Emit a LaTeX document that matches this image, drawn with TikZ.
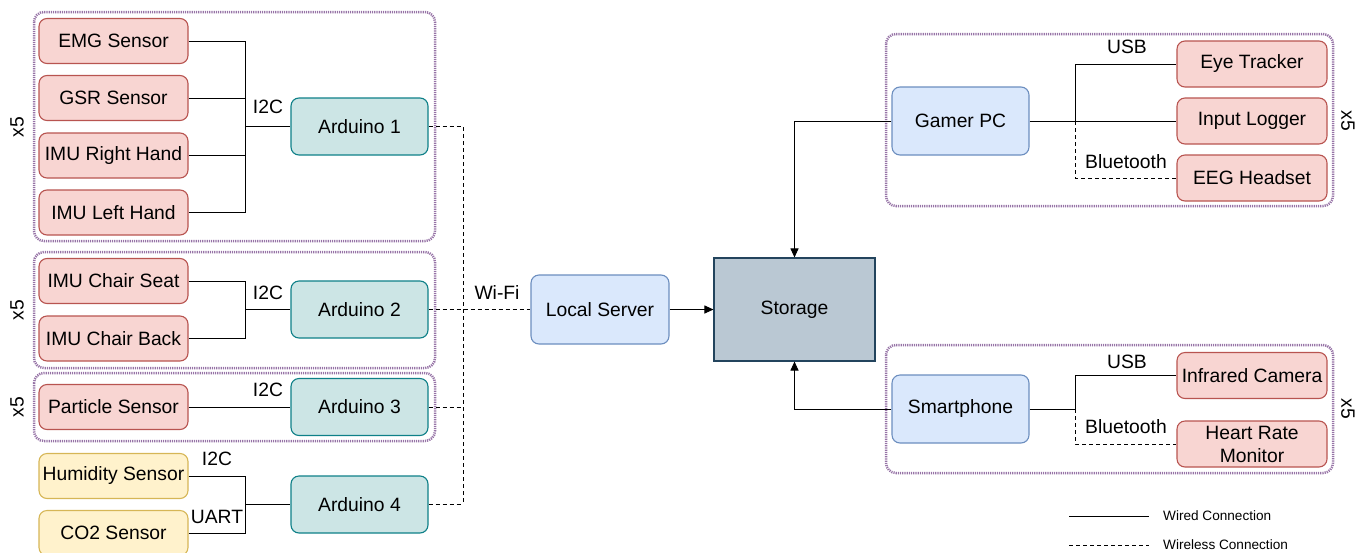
\documentclass[tikz,border=0pt]{standalone}
\usepackage{fontspec}
\setmainfont{Liberation Sans}
\usetikzlibrary{arrows.meta}
\definecolor{redfill}{HTML}{F8D5D2}
\definecolor{redline}{HTML}{B85450}
\definecolor{yelfill}{HTML}{FFF2CC}
\definecolor{yelline}{HTML}{D6B656}
\definecolor{tealfill}{HTML}{CCE5E5}
\definecolor{tealline}{HTML}{0E8088}
\definecolor{bluefill}{HTML}{DAE8FC}
\definecolor{blueline}{HTML}{6C8EBF}
\definecolor{stofill}{HTML}{BAC8D3}
\definecolor{stoline}{HTML}{23445D}
\definecolor{grpline}{HTML}{9673A6}
\begin{document}
\begin{tikzpicture}[x=1pt,y=-1pt,
  font=\fontsize{19.3}{22}\selectfont,
  boxbase/.style={rounded corners=8pt, line width=1.1pt, inner sep=0pt, align=center},
  redbox/.style={boxbase, fill=redfill, draw=redline, minimum width=149pt, minimum height=45pt},
  rredbox/.style={boxbase, fill=redfill, draw=redline, minimum width=150pt, minimum height=46pt},
  yelbox/.style={boxbase, fill=yelfill, draw=yelline, minimum width=149pt, minimum height=45pt},
  ardbox/.style={boxbase, fill=tealfill, draw=tealline, minimum width=137pt, minimum height=57pt},
  bluebox/.style={boxbase, fill=bluefill, draw=blueline, minimum width=137pt, minimum height=68pt},
  grp/.style={draw=grpline, line width=2.5pt, dash pattern=on 1.2pt off 1pt, rounded corners=10pt},
  wire/.style={draw=black, line width=1pt},
  wless/.style={draw=black, line width=1pt, dash pattern=on 4pt off 3pt},
  arr/.style={-{Triangle[width=8pt,length=9pt]}},
  lbl/.style={inner sep=0pt},
  leg/.style={inner sep=0pt, anchor=west, font=\fontsize{13.6}{15}\selectfont}
]
\useasboundingbox (0,0) rectangle (1362,552);

% groups
\draw[grp] (34,12) rectangle (435,241);
\draw[grp] (34,252) rectangle (435,368);
\draw[grp] (34,373) rectangle (435,441);
\draw[grp] (886,34) rectangle (1333,206);
\draw[grp] (886,345) rectangle (1333,473);

\node[lbl, rotate=90] (xa) at (17,127) {x5};
\node[lbl, rotate=90] (xb) at (17,310) {x5};
\node[lbl, rotate=90] (xc) at (17,407) {x5};
\node[lbl, rotate=-90] (xd) at (1348,121) {x5};
\node[lbl, rotate=-90] (xe) at (1348,409) {x5};

% left sensors
\node[redbox] (emg) at (113.5,41) {EMG Sensor};
\node[redbox] (gsr) at (113.5,98) {GSR Sensor};
\node[redbox] (imur) at (113.5,155.5) {IMU Right Hand};
\node[redbox] (imul) at (113.5,212.5) {IMU Left Hand};
\node[redbox] (seat) at (113.5,281) {IMU Chair Seat};
\node[redbox] (back) at (113.5,338.5) {IMU Chair Back};
\node[redbox] (part) at (113.5,407) {Particle Sensor};
\node[yelbox] (hum) at (113.5,476) {Humidity Sensor};
\node[yelbox] (co2) at (113.5,533) {CO2 Sensor};

\node[ardbox] (a1) at (359.5,126.5) {Arduino 1};
\node[ardbox] (a2) at (359.5,309.5) {Arduino 2};
\node[ardbox] (a3) at (359.5,407) {Arduino 3};
\node[ardbox] (a4) at (359.5,504.5) {Arduino 4};

\node[bluebox, minimum width=138pt, minimum height=69pt] (ls) at (600,309.5) {Local Server};
\node[draw=stoline, fill=stofill, line width=1.1pt, minimum width=161pt, minimum height=103pt, inner sep=0pt] (sto) at (794.5,309.5) {Storage};

\node[bluebox] (gpc) at (960.5,121) {Gamer PC};
\node[bluebox] (sp) at (960.5,409) {Smartphone};

\node[rredbox] (eye) at (1252,64) {Eye Tracker};
\node[rredbox] (inp) at (1252,121) {Input Logger};
\node[rredbox] (eeg) at (1252,178) {EEG Headset};
\node[rredbox] (ir) at (1252,375.5) {Infrared Camera};
\node[rredbox, font=\fontsize{19.3}{23}\selectfont] (hrm) at (1252,444) {Heart Rate\\Monitor};

% buses
\coordinate (b1) at (245,126.5);
\coordinate (b2) at (245,309.5);
\coordinate (b4) at (245,504.5);
\coordinate (w4) at (463,504.5);
\coordinate (gb) at (1075,121);
\coordinate (sb) at (1075,409);

\draw[wire] (emg.east) -| (b1);
\draw[wire] (gsr.east) -| (b1);
\draw[wire] (imur.east) -| (b1);
\draw[wire] (imul.east) -| (b1);
\draw[wire] (b1) -- (a1.west);
\draw[wire] (seat.east) -| (b2);
\draw[wire] (back.east) -| (b2);
\draw[wire] (b2) -- (a2.west);
\draw[wire] (part.east) -- (a3.west);
\draw[wire] (hum.east) -| (b4);
\draw[wire] (co2.east) -| (b4);
\draw[wire] (b4) -- (a4.west);

\node[lbl] (l1) at (268,107) {I2C};
\node[lbl] (l2) at (268,293) {I2C};
\node[lbl] (l3) at (268,390) {I2C};
\node[lbl] (l4) at (217,459) {I2C};
\node[lbl] (l5) at (217,517) {UART};

% wireless
\draw[wless] (a1.east) -| (w4);
\draw[wless] (a4.east) -- (w4);
\draw[wless] (a3.east) -- (a3.east -| w4);
\draw[wless] (a2.east) -- (ls.west);
\node[lbl] (wifi) at (497,293) {Wi-Fi};

\draw[wire, arr] (ls.east) -- (sto.west);
\draw[wire, arr] (gpc.west) -| (sto.north);
\draw[wire, arr] (sp.west) -| (sto.south);

% right
\draw[wire] (gpc.east) -- (inp.west);
\draw[wire] (gb) |- (eye.west);
\draw[wless] (gb) |- (eeg.west);
\node[lbl] (usb1) at (1127,47) {USB};
\node[lbl] (bt1) at (1126,162) {Bluetooth};

\draw[wire] (sp.east) -- (sb);
\draw[wire] (sb) |- (ir.west);
\draw[wless] (sb) |- (hrm.west);
\node[lbl] (usb2) at (1127,362) {USB};
\node[lbl] (bt2) at (1126,427) {Bluetooth};

% legend
\coordinate (lw1) at (1069,516);
\coordinate (lw2) at (1149,516);
\coordinate (ld1) at (1069,545);
\coordinate (ld2) at (1149,545);
\draw[wire] (lw1) -- (lw2);
\draw[wless] (ld1) -- (ld2);
\node[leg] (lt1) at (1163,516) {Wired Connection};
\node[leg] (lt2) at (1163,545) {Wireless Connection};
\end{tikzpicture}
\end{document}
